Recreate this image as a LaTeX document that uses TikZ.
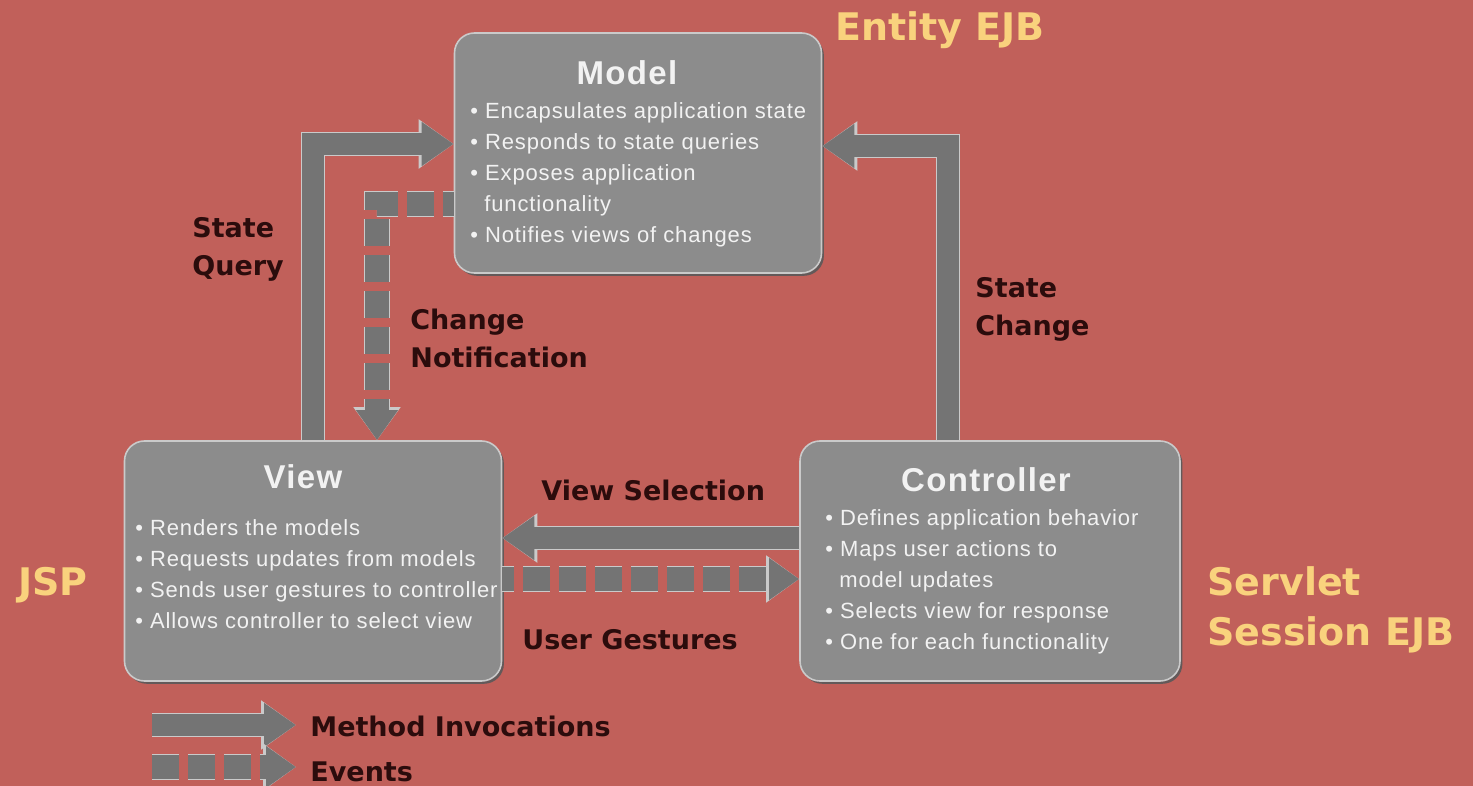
\documentclass[tikz,border=0pt]{standalone}
\usepackage{fontspec}
\usetikzlibrary{arrows.meta,shadows}
\newfontfamily\lblfont{DejaVu Sans}
\newfontfamily\boxfont{Liberation Sans}[LetterSpace=4]
\definecolor{bg}{HTML}{C1605A}
\definecolor{boxgray}{HTML}{8C8C8C}
\definecolor{arrgray}{HTML}{747474}
\definecolor{edgegray}{HTML}{CACACA}
\definecolor{lbldark}{HTML}{2B0C0C}
\definecolor{lblyellow}{HTML}{F9D27D}
\definecolor{boxtext}{HTML}{F2F2F2}
\tikzset{
  mvcbox/.style={draw=edgegray, line width=0.8pt, fill=boxgray, rounded corners=10pt,
    inner sep=0pt, minimum height=120pt,
    drop shadow={shadow xshift=1.2pt, shadow yshift=-1.4pt, fill=black!65, opacity=0.9}},
  boxtitle/.style={text=boxtext, font=\boxfont\bfseries\fontsize{16.5pt}{19pt}\selectfont, inner sep=0pt},
  boxbody/.style={text=boxtext, font=\boxfont\fontsize{11pt}{15.5pt}\selectfont, align=left, inner sep=0pt, anchor=west},
  darklbl/.style={text=lbldark, font=\lblfont\bfseries\fontsize{13.5pt}{19pt}\selectfont, align=left, inner sep=0pt, anchor=west},
  yellowlbl/.style={text=lblyellow, font=\lblfont\bfseries\fontsize{19pt}{25pt}\selectfont, align=left, inner sep=0pt, anchor=west},
  solidarrow/.style={draw=arrgray, line width=11pt, -{Triangle[length=16pt,width=21pt]},
    preaction={draw=edgegray, line width=12.4pt, -{Triangle[length=17.5pt,width=23.5pt]}}},
  eventarrow/.style={draw=arrgray, line width=12pt, dash pattern=on 13.5pt off 4.5pt, -{Triangle[length=15pt,width=20pt]},
    preaction={draw=edgegray, line width=13.2pt, dash pattern=on 13.5pt off 4.5pt, -{Triangle[length=16.5pt,width=22.5pt]}}},
}
\begin{document}
\begin{tikzpicture}[x=0.5pt,y=-0.5pt]
\fill[bg] (0,0) rectangle (1473,786);
\useasboundingbox (0,0) rectangle (1473,786);

% boxes
\node[mvcbox, minimum width=183.5pt] (model) at (638,153) {};
\node[mvcbox, minimum width=188.5pt] (view) at (313,561) {};
\node[mvcbox, minimum width=190pt] (controller) at (990,561) {};

% connectors
\draw[solidarrow] (view.north) |- ([yshift=4.5pt]model.west);
\draw[solidarrow] ([xshift=-21pt]controller.north) |- ([yshift=3.5pt]model.east);
\draw[solidarrow] ([yshift=11.5pt]controller.west) -- ([yshift=11.5pt]view.east);
\draw[eventarrow, dash phase=7.5pt] ([yshift=-9pt]view.east) -- ([yshift=-9pt]controller.west);
\draw[eventarrow, dash phase=8pt] ([yshift=-25.5pt]model.west) -| ([xshift=32pt]view.north);

% box texts
\node[boxtitle] (modelT) at (627,73) {Model};
\node[boxbody] (modelB) at (470,175) {• Encapsulates application state\\• Responds to state queries\\• Exposes application\\\ \ functionality\\• Notifies views of changes};
\node[boxtitle] (viewT) at (303,477) {View};
\node[boxbody] (viewB) at (135,574) {• Renders the models\\• Requests updates from models\\• Sends user gestures to controller\\• Allows controller to select view};
\node[boxtitle] (controllerT) at (986,480) {Controller};
\node[boxbody] (controllerB) at (825,582) {• Defines application behavior\\• Maps user actions to\\\ \ model updates\\• Selects view for response\\• One for each functionality};

% labels
\node[yellowlbl] (entity) at (835,30) {Entity EJB};
\node[yellowlbl] (jsp) at (18,585) {JSP};
\node[yellowlbl] (servlet) at (1207,610) {Servlet\\Session EJB};
\node[darklbl] (sq) at (192,249) {State\\Query};
\node[darklbl] (cn) at (410,338) {Change\\Notification};
\node[darklbl] (sc) at (975,309) {State\\Change};
\node[darklbl] (vs) at (541,490) {View Selection};
\node[darklbl] (ug) at (522,640) {User Gestures};

% legend
\coordinate (miS) at (152,725);
\coordinate (miE) at (296,725);
\draw[solidarrow] (miS) -- (miE);
\coordinate (evS) at (152,767);
\coordinate (evE) at (296,767);
\draw[eventarrow] (evS) -- (evE);
\node[darklbl] (mi) at (310,726) {Method Invocations};
\node[darklbl] (ev) at (310,772) {Events};
\end{tikzpicture}
\end{document}
